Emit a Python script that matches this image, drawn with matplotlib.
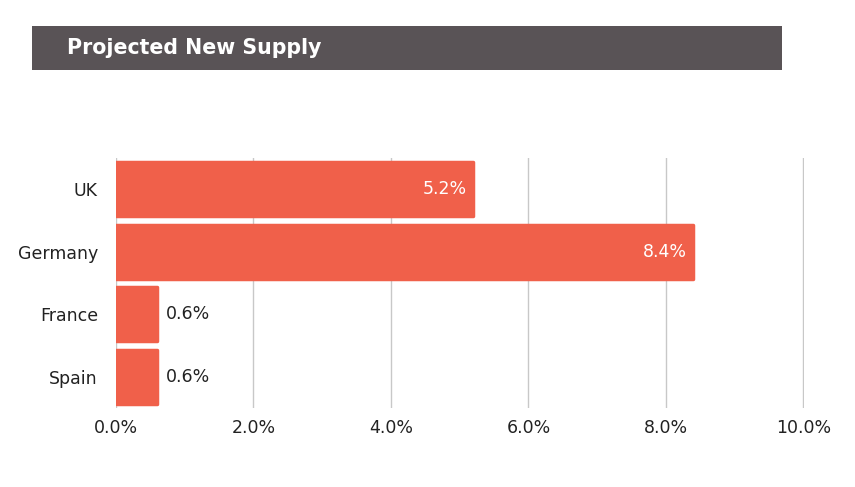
import matplotlib
matplotlib.use("Agg")
from matplotlib import pyplot as plt
from matplotlib.patches import Rectangle

countries = ["UK", "Germany", "France", "Spain"]
supply = [5.2, 8.4, 0.6, 0.6]
x_ticks = [0, 2, 4, 6, 8, 10]

bar_color = "#F0604A"
text_color = "#222222"

plt.rcParams["font.family"] = ["DejaVu Sans"]

fig = plt.figure(figsize=(8.55, 4.87), dpi=100)

# title banner
fig.patches.append(Rectangle((32 / 855, 1 - 70 / 487), 750 / 855, 44 / 487,
                             transform=fig.transFigure, facecolor="#595356",
                             edgecolor="none", zorder=0))
fig.text(67 / 855, 1 - 48 / 487, "Projected New Supply", color="white",
         fontsize=14.8, fontweight="bold", va="center", ha="left")

ax = fig.add_axes([116 / 855, 1 - 408 / 487, 688 / 855, 250 / 487])

y = range(len(countries))
bars = ax.barh(y, supply, height=0.87, color=bar_color, edgecolor=bar_color,
               linewidth=2.5, joinstyle="round", zorder=2)

for i, v in enumerate(supply):
    label = f"{v:.1f}%"
    if v > 2:
        ax.text(v - 0.1, i, label, color="white", fontsize=12.5,
                ha="right", va="center", zorder=3)
    else:
        ax.text(v + 0.12, i, label, color=text_color, fontsize=12.5,
                ha="left", va="center", zorder=3)

ax.set_xlim(0, 10.01)
ax.set_ylim(len(countries) - 0.5, -0.5)
ax.set_yticks(list(y))
ax.set_yticklabels(countries)
ax.set_xticks(x_ticks)
ax.set_xticklabels([f"{t:.1f}%" for t in x_ticks])
ax.tick_params(axis="both", length=0, labelsize=12.5, colors=text_color)
ax.tick_params(axis="y", pad=13)
ax.tick_params(axis="x", pad=8)
ax.grid(axis="x", color="#C8C8C8", linewidth=1, zorder=0)
ax.set_axisbelow(True)
for s in ax.spines.values():
    s.set_visible(False)

plt.savefig("out.png", dpi=100)
